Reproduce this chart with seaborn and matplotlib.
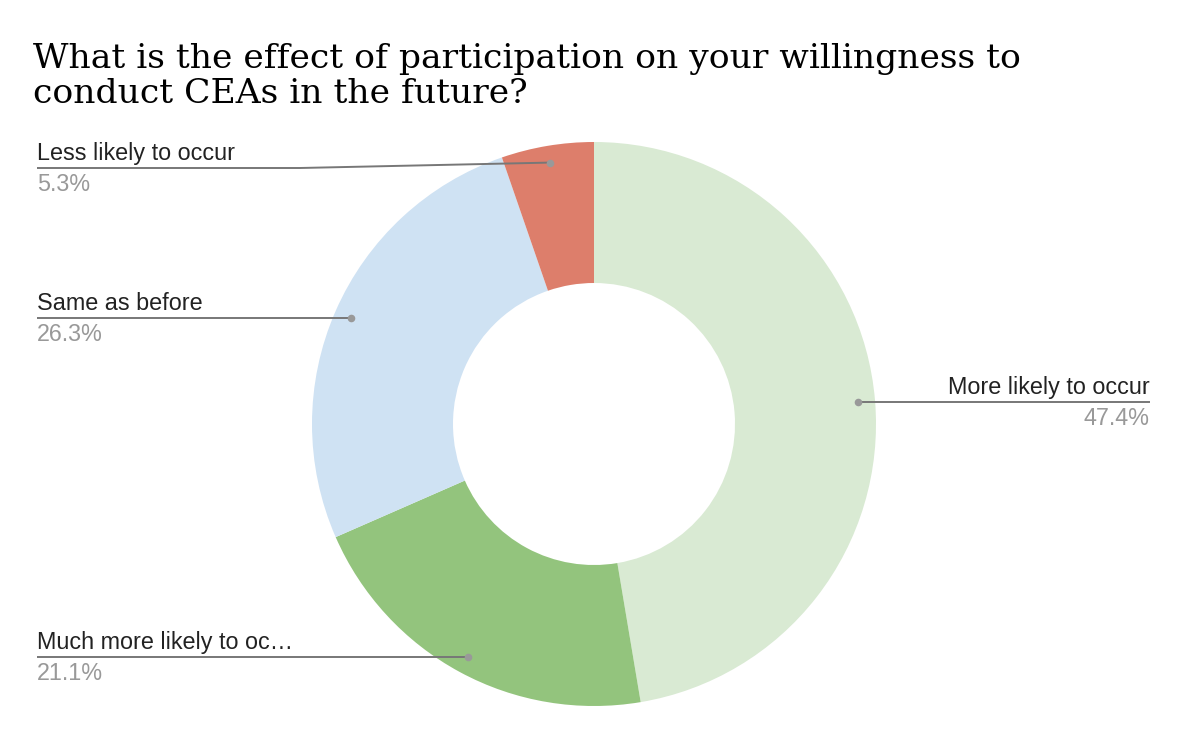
import numpy as np
import matplotlib
matplotlib.use("Agg")
from matplotlib import pyplot as plt
from matplotlib import font_manager as fm
import seaborn as sns

# data, clockwise from the top
categories = ["More likely to occur", "Much more likely to occur", "Same as before", "Less likely to occur"]
short_labels = ["More likely to occur", "Much more likely to oc\u2026", "Same as before", "Less likely to occur"]
percents = [47.4, 21.1, 26.3, 5.3]
colors = ["#d9ead3", "#93c47d", "#cfe2f3", "#dd7e6b"]
title = "What is the effect of participation on your willingness to\nconduct CEAs in the future?"

W, H = 1188, 742
sns.set_theme(style="white")
plt.rcParams["font.family"] = ["Liberation Sans", "DejaVu Sans"]

# make sure the regular (not narrow) Liberation Sans is used for labels
lab_font = None
for f in fm.fontManager.ttflist:
    if "LiberationSans-Regular" in f.fname:
        lab_font = fm.FontProperties(fname=f.fname, size=16.8)
        break
if lab_font is None:
    lab_font = fm.FontProperties(family="DejaVu Sans", size=15)

fig = plt.figure(figsize=(W / 100, H / 100), dpi=100)
ax = fig.add_axes([0, 0, 1, 1])

cx, cy, R = 594, H - 424, 282
ax.pie(percents, colors=colors, startangle=90, counterclock=False,
       center=(cx, cy), radius=R, frame=True,
       wedgeprops=dict(width=R * 0.5, linewidth=0))
ax.set_xlim(0, W)
ax.set_ylim(0, H)
ax.set_aspect("equal")
ax.axis("off")

# label anchor side / x, in pixels (y measured from top)
label_x = [1150, 37, 37, 37]
side = ["right", "left", "left", "left"]
line_y_override = [None, None, None, 168]

cum = np.cumsum([0] + percents[:-1])
total = sum(percents)
r_dot = R * 0.94
for i, p in enumerate(percents):
    mid = (cum[i] + p / 2) / total * 2 * np.pi
    dx = cx + r_dot * np.sin(mid)
    dy = cy + r_dot * np.cos(mid)
    if line_y_override[i] is None:
        ly = dy
        xs, ys = [label_x[i], dx], [ly, ly]
    else:
        ly = H - line_y_override[i]
        xs, ys = [label_x[i], 300, dx], [ly, ly, dy]
    ax.plot(xs, ys, color="#777777", lw=1.4, solid_capstyle="butt", zorder=3)
    ax.scatter([dx], [dy], s=30, color="#999999", zorder=4, linewidths=0)
    ha = side[i]
    ax.text(label_x[i], ly + 3, short_labels[i], ha=ha, va="bottom",
            fontproperties=lab_font, color="#222222")
    ax.text(label_x[i], ly - 5, f"{p:.1f}%", ha=ha, va="top",
            fontproperties=lab_font, color="#999999")

fig.text(33 / W, 1 - 43 / H, title, ha="left", va="top", fontsize=24.8,
         family=["DejaVu Serif"], color="#000000", linespacing=1.13)

fig.savefig("out.png", dpi=100, facecolor="white")
